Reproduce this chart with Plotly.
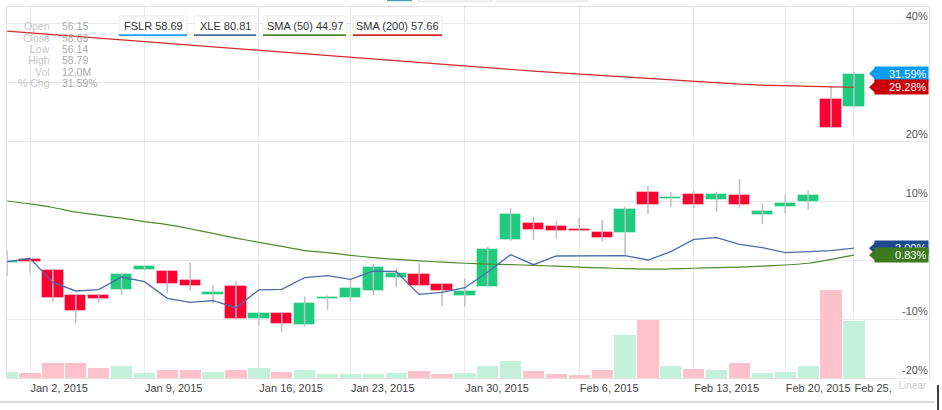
import plotly.graph_objects as go

# ---------------- data ----------------
dates = ["2014-12-31", "2015-01-02", "2015-01-05", "2015-01-06", "2015-01-07", "2015-01-08",
         "2015-01-09", "2015-01-12", "2015-01-13", "2015-01-14", "2015-01-15", "2015-01-16",
         "2015-01-20", "2015-01-21", "2015-01-22", "2015-01-23", "2015-01-26", "2015-01-27",
         "2015-01-28", "2015-01-29", "2015-01-30", "2015-02-02", "2015-02-03", "2015-02-04",
         "2015-02-05", "2015-02-06", "2015-02-09", "2015-02-10", "2015-02-11", "2015-02-12",
         "2015-02-13", "2015-02-17", "2015-02-18", "2015-02-19", "2015-02-20", "2015-02-23",
         "2015-02-24", "2015-02-25"]

# FSLR, % change
opens = [-0.46, 0.12, -1.69, -5.93, -5.99, -5.08, -1.69, -1.86, -3.39, -5.93, -4.41, -10.06,
         -9.04, -11.0, -6.6, -6.5, -5.2, -3.0, -2.37, -4.12, -6.1, -4.52, 3.39, 6.21,
         5.76, 5.2, 4.75, 4.63, 11.47, 10.29, 11.13, 10.11, 10.96, 7.63, 8.98, 9.83,
         27.24, 25.89]
highs = [1.6, 0.46, -1.6, -5.93, -5.9, -2.15, -1.0, -1.86, -0.45, -4.24, -3.56, -8.93,
         -9.0, -6.2, -5.99, -3.39, -0.68, -1.47, -0.56, -3.84, -3.16, 2.26, 8.76, 7.34,
         6.61, 7.17, 6.78, 9.03, 12.54, 11.58, 11.86, 11.58, 13.73, 9.6, 11.02, 11.86,
         29.49, 31.81]
lows = [-2.66, -2.15, -7.07, -10.7, -7.2, -5.93, -1.75, -5.65, -5.25, -7.34, -10.06, -11.0,
        -12.15, -11.3, -8.47, -7.06, -5.93, -4.52, -4.35, -7.8, -7.9, -4.63, 3.28, 3.39,
        3.67, 4.9, 3.1, 0.68, 7.8, 9.03, 8.76, 8.19, 8.76, 6.05, 7.9, 8.47,
        22.37, 25.87]
closes = [-0.12, -0.28, -6.39, -8.59, -6.55, -2.32, -1.02, -4.07, -4.35, -5.37, -10.06, -8.93,
          -10.85, -7.23, -6.2, -4.8, -1.19, -2.26, -4.35, -5.2, -5.25, 1.81, 7.8, 5.08,
          4.97, 4.92, 3.67, 8.64, 9.27, 10.68, 9.38, 11.13, 9.38, 8.31, 9.71, 11.07,
          22.37, 31.59]
volume_m = [1.2, 1.0, 3.1, 3.1, 2.2, 2.5, 1.1, 1.6, 1.7, 1.3, 1.75, 2.1,
            1.3, 1.7, 0.9, 0.9, 0.9, 1.1, 1.4, 0.8, 1.1, 2.6, 3.6, 1.5,
            0.9, 0.6, 1.6, 9.0, 12.2, 2.6, 1.9, 1.7, 3.1, 1.1, 1.3, 2.5,
            18.5, 12.0]
xle = [-0.28, 0.28, -3.79, -5.25, -5.03, -2.88, -3.67, -6.5, -7.18, -6.89, -8.08, -5.08,
       -4.97, -2.99, -2.66, -3.28, -1.9, -1.95, -5.82, -5.48, -4.69, -2.03, 0.9, -0.8,
       0.68, 0.68, 0.73, 0.73, 0.0, 1.41, 3.5, 3.78, 2.66, 2.09, 1.24, 1.41, 1.58, 2.0]
sma50 = [10.0, 9.5, 8.9, 8.1, 7.6, 7.1, 6.5, 6.0, 5.3, 4.5, 3.7, 3.0,
         2.3, 1.6, 1.25, 0.8, 0.4, 0.1, -0.15, -0.35, -0.55, -0.7, -0.8, -0.9,
         -1.05, -1.2, -1.35, -1.45, -1.55, -1.5, -1.4, -1.3, -1.2, -1.05, -0.85, -0.55,
         0.1, 0.83]
sma200 = [38.8, 38.5, 38.2, 37.9, 37.6, 37.3, 37.0, 36.7, 36.4, 36.15, 35.9, 35.6,
          35.3, 35.0, 34.7, 34.4, 34.1, 33.8, 33.5, 33.2, 32.9, 32.6, 32.3, 32.0,
          31.75, 31.5, 31.2, 30.95, 30.7, 30.45, 30.2, 30.0, 29.8, 29.65, 29.5, 29.4,
          29.33, 29.28]

tick_dates = ["2015-01-02", "2015-01-09", "2015-01-16", "2015-01-23", "2015-01-30",
              "2015-02-06", "2015-02-13", "2015-02-20", "2015-02-25"]
tick_labels = ["Jan 2, 2015", "Jan 9, 2015", "Jan 16, 2015", "Jan 23, 2015", "Jan 30, 2015",
               "Feb 6, 2015", "Feb 13, 2015", "Feb 20, 2015", "Feb 25, 2015"]
y_ticks = [-20, -10, 0, 10, 20, 30, 40]
y_tick_text = ["-20%", "-10%", "", "10%", "20%", "", "40%"]  # 0% and 30% are hidden behind tags

legend_names = ["FSLR 58.69", "XLE 80.81", "SMA (50) 44.97", "SMA (200) 57.66"]
info_labels = ["Open", "Close", "Low", "High", "Vol", "% Chg"]
info_values = ["56.15", "58.69", "56.14", "58.79", "12.0M", "31.59%"]

# ---------------- style ----------------
UP, DOWN = "#1FCB7E", "#FF0033"
UP_V, DOWN_V = "#C3F1DB", "#FFC2CC"
C_FSLR, C_XLE, C_S50, C_S200 = "#1CA0F2", "#4C6DA6", "#4E8B2F", "#D42A2A"
TAG_FSLR, TAG_S200, TAG_XLE, TAG_S50 = "#0A9BF2", "#C8000A", "#1F4B8C", "#3B7A1E"
FONT = "Liberation Sans, Arial, sans-serif"

W, H = 942, 410
PL, PR, PT, PB = 7, 929, 7, 378
PW, PH = PR - PL, PB - PT


def px(x):
    return (x - PL) / PW


def py(y):
    return (PB - y) / PH


up = [c >= o for o, c in zip(opens, closes)]

fig = go.Figure()

# volume
fig.add_trace(go.Bar(x=dates, y=volume_m, yaxis="y2", width=0.93,
                     marker=dict(color=[UP_V if u else DOWN_V for u in up], line_width=0),
                     hoverinfo="skip", showlegend=False))

# wicks
wx, wy = [], []
for d, h, l in zip(dates, highs, lows):
    wx += [d, d, None]
    wy += [h, l, None]
fig.add_trace(go.Scatter(x=wx, y=wy, mode="lines", line=dict(color="#BEBFC7", width=1.5),
                         hoverinfo="skip", showlegend=False))

# candle bodies
base = [min(o, c) for o, c in zip(opens, closes)]
height = [max(abs(c - o), 0.12) for o, c in zip(opens, closes)]
fig.add_trace(go.Bar(x=dates, y=height, base=base, width=0.93,
                     marker=dict(color=[UP if u else DOWN for u in up],
                                 line=dict(color="rgba(255,255,255,0.35)", width=1)),
                     hoverinfo="skip", showlegend=False))

# lines
fig.add_trace(go.Scatter(x=dates, y=sma200, mode="lines", line=dict(color=C_S200, width=1.2),
                         showlegend=False, hoverinfo="skip"))
fig.add_trace(go.Scatter(x=dates, y=sma50, mode="lines",
                         line=dict(color=C_S50, width=1.2, shape="spline", smoothing=0.6),
                         showlegend=False, hoverinfo="skip"))
fig.add_trace(go.Scatter(x=dates, y=xle, mode="lines", line=dict(color=C_XLE, width=1.3),
                         showlegend=False, hoverinfo="skip"))

shapes, annotations = [], []

# right-side value tags (arrow tip = shape, body = annotation box so later tags cover earlier)
ppu = PH / (42.88 + 20)  # px per % unit
half = 7 / ppu
tags = [(closes[-1], TAG_FSLR), (sma200[-1], TAG_S200), (xle[-1], TAG_XLE), (sma50[-1], TAG_S50)]
for v, col in tags:
    x0, x1 = px(869), px(876.5)
    path = f"M {x0},{v} L {x1},{v + half} L {x1},{v - half} Z"
    shapes.append(dict(type="path", path=path, xref="paper", yref="y", fillcolor=col,
                       line=dict(width=0), layer="above"))
    annotations.append(dict(x=px(929), y=v, xref="paper", yref="y", xanchor="right",
                            yanchor="middle", text=f"{v:.2f}%", showarrow=False,
                            width=50, height=11, borderpad=1.5, align="right", valign="middle",
                            bgcolor=col, font=dict(family=FONT, size=11, color="white")))

# legend boxes at top
boxes = [(119, 187, C_FSLR), (194, 256, C_XLE), (263, 346, C_S50), (353, 442, C_S200)]
for (x0, x1, col), name in zip(boxes, legend_names):
    shapes.append(dict(type="rect", xref="paper", yref="paper", x0=px(x0), x1=px(x1),
                       y0=py(36), y1=py(16), fillcolor="white",
                       line=dict(color="#EDEDED", width=1), layer="above"))
    shapes.append(dict(type="rect", xref="paper", yref="paper", x0=px(x0), x1=px(x1),
                       y0=py(36), y1=py(34.3), fillcolor=col, line=dict(width=0), layer="above"))
    annotations.append(dict(x=px((x0 + x1) / 2), y=py(25.5), xref="paper", yref="paper",
                            text=name, showarrow=False, xanchor="center", yanchor="middle",
                            font=dict(family=FONT, size=11, color="#333333")))

# info panel
for k, (lab, val) in enumerate(zip(info_labels, info_values)):
    yy = py(26.5 + 11.3 * k)
    annotations.append(dict(x=px(51.5), y=yy, xref="paper", yref="paper", text=lab,
                            showarrow=False, xanchor="right", yanchor="middle",
                            font=dict(family=FONT, size=10.5, color="#C6C6C6")))
    annotations.append(dict(x=px(59.5), y=yy, xref="paper", yref="paper", text=val,
                            showarrow=False, xanchor="left", yanchor="middle",
                            font=dict(family=FONT, size=10.5, color="#ABABAB")))

# "Linear" label box at bottom right
annotations.append(dict(x=px(929), y=py(385), xref="paper", yref="paper", text="Linear",
                        showarrow=False, xanchor="right", yanchor="middle", width=33,
                        align="right", bgcolor="white", borderpad=1,
                        font=dict(family=FONT, size=10, color="#CFCFCF")))

# page decorations
shapes.append(dict(type="line", xref="paper", yref="paper", x0=px(0), x1=px(935),
                   y0=py(402), y1=py(402), line=dict(color="#DCDCDC", width=2)))
shapes.append(dict(type="line", xref="paper", yref="paper", x0=px(938), x1=px(938),
                   y0=py(385), y1=py(410), line=dict(color="black", width=1.5)))
shapes.append(dict(type="rect", xref="paper", yref="paper", x0=px(387), x1=px(412),
                   y0=py(1.2), y1=py(-2), fillcolor="#4AA3A8", line=dict(width=0)))
for a, b in [(418, 492), (497, 587)]:
    shapes.append(dict(type="rect", xref="paper", yref="paper", x0=px(a), x1=px(b),
                       y0=py(1.2), y1=py(-4), fillcolor="white",
                       line=dict(color="#DDDDDD", width=1)))

fig.update_layout(
    width=W, height=H, autosize=False,
    margin=dict(l=PL, r=W - PR, t=PT, b=H - PB, autoexpand=False),
    paper_bgcolor="white", plot_bgcolor="white",
    barmode="overlay", bargap=0, showlegend=False,
    font=dict(family=FONT),
    xaxis=dict(type="category", range=[-0.005, 40.28], tickvals=tick_dates, ticktext=tick_labels,
               ticklabelposition="outside right", tickangle=0, automargin=False,
               showgrid=True, gridcolor="#E7E7EC", gridwidth=1,
               showline=True, linecolor="#DEDEE3", linewidth=1, mirror=True, ticks="",
               tickfont=dict(family=FONT, size=11, color="#444444"), zeroline=False),
    yaxis=dict(range=[-20, 42.88], tickvals=y_ticks, ticktext=y_tick_text, automargin=False,
               side="right", ticklabelposition="inside top", showgrid=True, gridcolor="#E7E7EC",
               gridwidth=1.3, showline=True, linecolor="#DEDEE3", mirror=True, zeroline=False,
               ticks="", tickfont=dict(family=FONT, size=11, color="#555555")),
    yaxis2=dict(range=[0, 78.1], overlaying="y", visible=False, showgrid=False),
    shapes=shapes, annotations=annotations,
)

fig.write_html("out.html")
